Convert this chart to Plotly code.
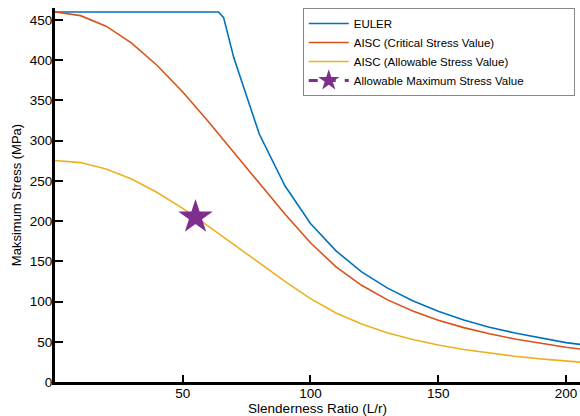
import plotly.graph_objects as go

# Slenderness ratio samples
x_euler = [0, 10, 20, 30, 40, 50, 60, 64, 66, 70, 80, 90, 100, 110, 120, 130, 140, 150, 160, 170, 180, 190, 200, 210]
y_euler = [460, 460, 460, 460, 460, 460, 460, 460, 453, 403, 308, 244, 197, 163, 137, 117, 101, 88, 77, 68, 61, 55, 49, 45]

x_aisc = [0, 10, 20, 30, 40, 50, 60, 70, 80, 90, 100, 110, 120, 130, 140, 150, 160, 170, 180, 190, 200, 210]
y_critical = [460, 455.5, 442.4, 421.3, 393.5, 360.5, 323.8, 285.2, 246.4, 208.8, 173.1, 143.1, 120.2, 102.4, 88.3, 76.9, 67.6, 59.9, 53.4, 48.0, 43.3, 39.3]
y_allowable = [275.4, 272.8, 264.9, 252.3, 235.6, 215.9, 193.9, 170.8, 147.5, 125.0, 103.7, 85.7, 72.0, 61.3, 52.9, 46.0, 40.5, 35.9, 32.0, 28.7, 25.9, 23.5]

x_point = [55]
y_point = [205]

x_ticks = [50, 100, 150, 200]
y_ticks = [0, 50, 100, 150, 200, 250, 300, 350, 400, 450]

pad = "&nbsp;" * 14

fig = go.Figure()
fig.add_trace(go.Scatter(x=x_euler, y=y_euler, mode="lines", name="EULER",
                         line=dict(color="#0072BD", width=1.6)))
fig.add_trace(go.Scatter(x=x_aisc, y=y_critical, mode="lines", name="AISC (Critical Stress Value)",
                         line=dict(color="#D95319", width=1.6)))
fig.add_trace(go.Scatter(x=x_aisc, y=y_allowable, mode="lines", name="AISC (Allowable Stress Value)",
                         line=dict(color="#EDB120", width=1.6)))
fig.add_trace(go.Scatter(x=x_point, y=y_point, mode="lines+markers",
                         name="Allowable Maximum Stress Value" + pad,
                         line=dict(color="#7E2F8E", width=3, dash="dash"),
                         marker=dict(symbol="star", size=26, color="#7E2F8E")))

fig.update_layout(
    width=580, height=416,
    margin=dict(l=55, r=0, t=8, b=34),
    paper_bgcolor="white", plot_bgcolor="white",
    font=dict(family="Liberation Sans, Arial, sans-serif", color="black", size=13.5),
    showlegend=True,
    legend=dict(x=0.99, y=1.0, xanchor="right", yanchor="top",
                bordercolor="#888888", borderwidth=1, bgcolor="white",
                font=dict(size=11.5), tracegroupgap=0, itemwidth=40),
)
fig.update_xaxes(range=[0, 205.5], tickvals=x_ticks, ticks="inside", ticklen=7, tickwidth=2,
                 tickcolor="black", showline=True, linecolor="black", linewidth=3,
                 showgrid=False, zeroline=False, ticklabelstandoff=-3,
                 title=dict(text="Slenderness Ratio (L/r)", standoff=2, font=dict(size=13.5)))
fig.update_yaxes(range=[0, 465], tickvals=y_ticks, ticks="inside", ticklen=8, tickwidth=2,
                 tickcolor="black", showline=True, linecolor="black", linewidth=3,
                 showgrid=False, zeroline=False, ticklabelstandoff=-3,
                 title=dict(text="Maksimum Stress (MPa)", standoff=6, font=dict(size=13)))

fig.write_html("out.html", config={"displayModeBar": False},
               post_script="document.body.style.margin='0';document.body.style.overflow='hidden';")
